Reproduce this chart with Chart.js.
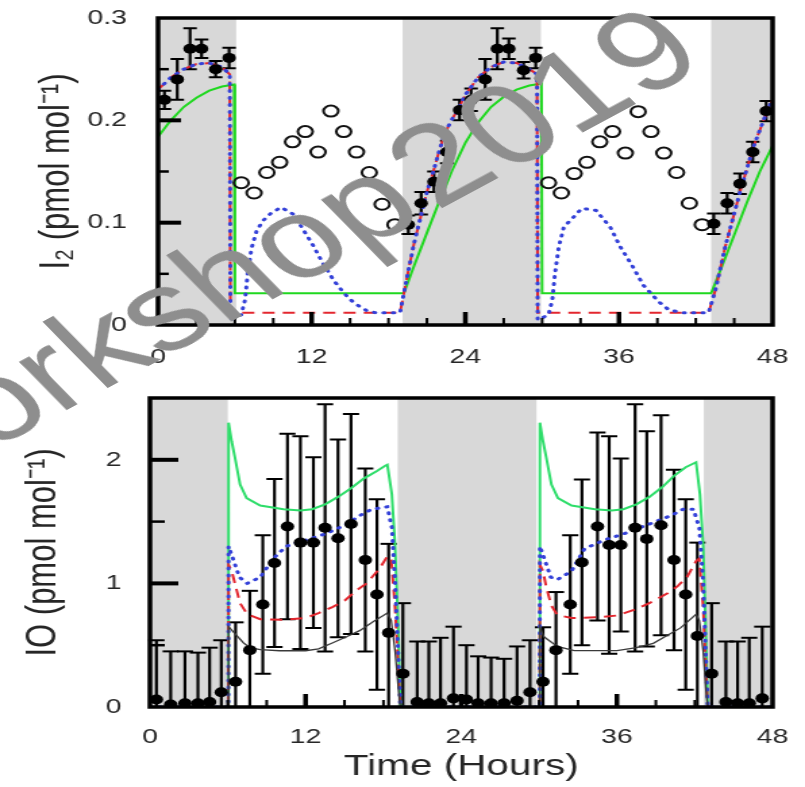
<!DOCTYPE html>
<html>
<head>
<meta charset="utf-8">
<title>I2 and IO diurnal cycle</title>
<script src="https://cdn.jsdelivr.net/npm/chart.js@4.4.1/dist/chart.umd.min.js"></script>
<style>
html, body { margin: 0; padding: 0; background: #fff; overflow: hidden; }
/* the figure is laid out narrow and then widened, like the printed version */
#page { position: absolute; left: 0; top: 0; width: 596px; height: 787px;
        transform-origin: 0 0; transform: scaleX(1.3507); }
#c1 { position: absolute; left: 0; top: 0; }
#c2 { position: absolute; left: 0; top: 380px; }
#mark { position: absolute; left: 194px; top: 257px; white-space: nowrap;
        font: 113px "Liberation Sans", Arial, sans-serif; line-height: 1; color: #8e8e8e;
        word-spacing: -0.22em;
        transform: translate(-50%, -50%) rotate(-36deg); pointer-events: none; }
</style>
</head>
<body>
<div id="page">
  <canvas id="c1" width="596" height="380"></canvas>
  <canvas id="c2" width="596" height="407"></canvas>
  <div id="mark">Workshop 2019</div>
</div>
<script>
// ---- I2 panel ----
// night-time I2 observations (filled) and their error bars
var i2Hours  = [0.5, 1.5, 2.5, 3.4, 4.5, 5.55, 19.55, 20.55, 21.55, 22.55, 23.55, 24.45, 25.55, 26.5, 27.4, 28.55, 29.5, 43.4, 44.45, 45.45, 46.45, 47.5];
var i2Values = [0.22, 0.24, 0.27, 0.27, 0.25, 0.261, 0.098, 0.119, 0.14, 0.169, 0.21, 0.22, 0.24, 0.27, 0.27, 0.249, 0.261, 0.099, 0.119, 0.138, 0.169, 0.209];
var i2Errors = [0.009, 0.02, 0.02, 0.009, 0.008, 0.01, 0.009, 0.011, 0.01, 0.011, 0.01, 0.011, 0.02, 0.02, 0.01, 0.008, 0.01, 0.01, 0.01, 0.01, 0.01, 0.01];

// daytime values (open circles)
var i2DayHours  = [6.5, 7.5, 8.5, 9.5, 10.5, 11.5, 12.5, 13.5, 14.5, 15.5, 16.5, 17.5, 18.5, 30.5, 31.5, 32.5, 33.5, 34.5, 35.5, 36.5, 37.5, 38.5, 39.5, 40.5, 41.5, 42.5];
var i2DayValues = [0.139, 0.129, 0.149, 0.159, 0.179, 0.189, 0.169, 0.209, 0.189, 0.169, 0.149, 0.118, 0.098, 0.139, 0.129, 0.148, 0.159, 0.179, 0.189, 0.168, 0.2085, 0.189, 0.168, 0.149, 0.119, 0.098];

// model runs [hour, I2]
var i2Blue = [[0,0.23],[1,0.242],[2,0.25],[3,0.255],[4,0.256],[5,0.252],[5.6,0.245],[5.65,0.005],[6.5,0.01],[6.8,0.025],[7.0,0.05],[7.3,0.075],[7.7,0.092],[8.2,0.102],[8.8,0.109],[9.6,0.115],[10.6,0.108],[11.5,0.09],[12.1,0.078],[12.8,0.062],[13.7,0.044],[14.2,0.036],[14.9,0.026],[15.5,0.02],[16.3,0.014],[17,0.012],[18.9,0.012],[19.5,0.05],[20,0.08],[20.5,0.105],[21,0.13],[21.5,0.15],[22,0.172],[22.5,0.19],[23,0.202],[23.5,0.212],[24,0.225],[25,0.242],[26,0.252],[27,0.257],[28,0.256],[29,0.25],[29.6,0.245],[29.65,0.005],[30.5,0.01],[30.8,0.025],[31,0.05],[31.3,0.0765],[31.7,0.096],[32.5,0.106],[33.1,0.114],[34.2,0.112],[35.3,0.096],[36.1,0.0765],[37,0.0587],[37.9,0.039],[39.1,0.0228],[39.9,0.0147],[41,0.012],[43.0,0.012],[43.55,0.035],[44.3,0.0765],[45.5,0.132],[46.5,0.174],[47.6,0.21],[48,0.22]];
var i2Red = [[0,0.23],[1,0.242],[2,0.25],[3,0.255],[4,0.256],[5,0.252],[5.6,0.245],[5.65,0.012],[18.9,0.012],[19.5,0.05],[20,0.08],[20.5,0.105],[21,0.13],[21.5,0.15],[22,0.172],[22.5,0.19],[23,0.202],[23.5,0.212],[24,0.225],[25,0.242],[26,0.252],[27,0.257],[28,0.256],[29,0.25],[29.6,0.245],[29.65,0.012],[43.0,0.012],[43.55,0.035],[44.3,0.0765],[45.5,0.132],[46.5,0.174],[47.6,0.21],[48,0.22]];
var i2Green = [[0,0.184],[1,0.2],[2,0.213],[3,0.222],[4,0.229],[5,0.233],[5.95,0.235],[6.0,0.031],[19.2,0.031],[20,0.058],[21,0.09],[22,0.122],[23,0.152],[24,0.178],[25,0.198],[26,0.213],[27,0.223],[28,0.23],[29,0.234],[29.95,0.236],[30.0,0.031],[43.2,0.031],[44,0.056],[45,0.088],[46,0.12],[47,0.15],[48,0.175]];

var i2Nights = [[0, 6.1], [19.1, 29.9], [43.2, 48]];

// ---- IO panel ----
var ioHours  = [0.5, 1.6, 2.7, 3.7, 4.6, 5.5, 6.6, 7.7, 8.7, 9.6, 10.6, 11.6, 12.6, 13.5, 14.5, 15.5, 16.6, 17.5, 18.4, 19.5, 20.6, 21.5, 22.4, 23.4, 24.4, 25.3, 26.3, 27.3, 28.3, 29.3, 30.3, 31.3, 32.4, 33.3, 34.5, 35.4, 36.3, 37.4, 38.3, 39.4, 40.4, 41.3, 42.2, 43.3, 44.4, 45.3, 46.2, 47.2];
var ioValues = [0.06, 0.02, 0.03, 0.03, 0.04, 0.12, 0.205, 0.46, 0.83, 1.165, 1.46, 1.33, 1.33, 1.45, 1.365, 1.48, 1.19, 0.91, 0.6, 0.27, 0.04, 0.03, 0.03, 0.07, 0.06, 0.03, 0.03, 0.03, 0.05, 0.12, 0.205, 0.46, 0.83, 1.17, 1.46, 1.31, 1.31, 1.45, 1.36, 1.47, 1.19, 0.91, 0.575, 0.27, 0.04, 0.03, 0.03, 0.07];
var ioErrors = [0.48, 0.43, 0.42, 0.41, 0.44, 0.42, 0.48, 0.48, 0.56, 0.68, 0.75, 0.86, 0.69, 1.0, 0.8, 0.89, 0.74, 0.77, 0.72, 0.57, 0.49, 0.5, 0.53, 0.58, 0.44, 0.38, 0.37, 0.36, 0.44, 0.42, 0.44, 0.47, 0.56, 0.67, 0.76, 0.88, 0.7, 1.0, 0.87, 0.89, 0.73, 0.77, 0.755, 0.57, 0.49, 0.5, 0.53, 0.58];

var ioGreen = [[0,0],[6.05,0],[6.06,2.3],[6.3,2.15],[6.55,2.02],[6.95,1.8],[7.45,1.69],[8.5,1.63],[10.3,1.6],[11.6,1.59],[12.5,1.6],[13.5,1.64],[14.5,1.7],[15.5,1.77],[16.5,1.85],[17.5,1.91],[18.1,1.95],[18.3,1.96],[18.65,1.72],[18.9,1.3],[19.15,0.6],[19.3,0],[30.05,0],[30.06,2.3],[30.3,2.15],[30.55,2.02],[30.95,1.8],[31.45,1.69],[32.5,1.63],[34.3,1.6],[35.6,1.59],[36.5,1.6],[37.5,1.64],[38.5,1.7],[39.5,1.78],[40.4,1.87],[41.3,1.94],[41.9,1.97],[42.1,1.98],[42.4,1.72],[42.65,1.3],[42.85,0.6],[43.0,0],[48,0]];
var ioBlue = [[0,0],[6.05,0],[6.06,1.3],[6.4,1.2],[6.9,1.05],[7.5,1.0],[8.5,1.05],[9.5,1.2],[10.5,1.3],[12,1.35],[13.5,1.4],[15,1.47],[16.2,1.55],[17.1,1.6],[18.3,1.62],[18.65,1.45],[18.9,1.0],[19.15,0.4],[19.3,0],[30.05,0],[30.06,1.3],[30.4,1.2],[30.9,1.05],[31.4,1.03],[32.5,1.1],[33.5,1.28],[35,1.35],[36.5,1.4],[38.5,1.48],[40.2,1.55],[41.1,1.6],[41.9,1.6],[42.35,1.45],[42.65,1.0],[42.85,0.4],[43.0,0],[48,0]];
var ioRed = [[0,0],[6.05,0],[6.06,1.15],[6.3,1.1],[6.55,1.0],[6.95,0.84],[7.5,0.75],[8.5,0.71],[10.3,0.705],[12,0.72],[13,0.76],[14.1,0.81],[15,0.86],[16,0.95],[16.7,1.0],[17.7,1.12],[18.3,1.22],[18.6,1.2],[18.9,0.8],[19.15,0.3],[19.3,0],[30.05,0],[30.06,1.15],[30.3,1.1],[30.55,0.97],[30.95,0.82],[31.4,0.745],[32.5,0.72],[34.7,0.726],[36,0.74],[37.3,0.785],[38.5,0.84],[39.9,0.92],[40.7,0.98],[41.4,1.05],[42.1,1.18],[42.35,1.2],[42.65,0.8],[42.85,0.3],[43.0,0],[48,0]];
var ioBlack = [[0,0],[6.05,0],[6.06,0.65],[6.5,0.6],[7.2,0.52],[7.7,0.48],[8.5,0.465],[10,0.455],[12,0.455],[13,0.47],[14.1,0.52],[15.2,0.57],[16.2,0.62],[17.2,0.69],[18.3,0.76],[18.6,0.7],[18.9,0.45],[19.15,0.15],[19.3,0],[30.05,0],[30.06,0.65],[30.35,0.57],[31.4,0.49],[32.7,0.456],[36,0.456],[37.5,0.48],[38.8,0.515],[39.9,0.58],[40.9,0.64],[42.1,0.75],[42.35,0.7],[42.65,0.45],[42.85,0.15],[43.0,0],[48,0]];

var ioNights = [[0, 6.0], [19.1, 29.8], [42.7, 48]];

// tick positions drawn inside the frame
var hourMajor = [12, 24, 36];
var hourMinor = [3, 6, 9, 15, 18, 21, 27, 30, 33, 39, 42, 45];
var i2Major = [0.1, 0.2];
var i2Minor = [0.05, 0.15, 0.25];
var ioMajor = [1, 2];
var ioMinor = [0.5, 1.5];

var FONT = '"Liberation Sans", Arial, Helvetica, sans-serif';
var INK = '#262626';

function xy(pairs) {
    return pairs.map(function (p) { return { x: p[0], y: p[1] }; });
}
function zip(xs, ys) {
    return xs.map(function (t, i) { return { x: t, y: ys[i] }; });
}

// night shading, error bars, frame and inward ticks
var panel = {
    id: 'panel',
    beforeDatasetsDraw: function (chart, args, o) {
	var ctx = chart.ctx, a = chart.chartArea, x = chart.scales.x, y = chart.scales.y;
	ctx.save();
	ctx.fillStyle = '#d8d8d8';
	o.nights.forEach(function (n) {
	    var x0 = x.getPixelForValue(n[0]), x1 = x.getPixelForValue(n[1]);
	    ctx.fillRect(x0, a.top, x1 - x0, a.bottom - a.top);
	});
	ctx.strokeStyle = '#000';
	o.hours.forEach(function (t, i) {
	    var px = x.getPixelForValue(t);
	    var v = o.values[i], e = o.errors[i];
	    var hi = y.getPixelForValue(v + e);
	    var lo = y.getPixelForValue(Math.max(0, v - e));
	    ctx.lineWidth = 2.2;
	    ctx.beginPath();
	    ctx.moveTo(px, hi); ctx.lineTo(px, lo);
	    ctx.stroke();
	    ctx.lineWidth = 2;
	    ctx.beginPath();
	    ctx.moveTo(px - o.cap, hi); ctx.lineTo(px + o.cap, hi);
	    if (v - e > 0) { ctx.moveTo(px - o.cap, lo); ctx.lineTo(px + o.cap, lo); }
	    ctx.stroke();
	});
	ctx.restore();
    },
    afterDatasetsDraw: function (chart, args, o) {
	var ctx = chart.ctx, a = chart.chartArea, x = chart.scales.x, y = chart.scales.y;
	ctx.save();
	ctx.strokeStyle = '#000';
	ctx.lineCap = 'butt';
	function xt(list, len, w) {
	    ctx.lineWidth = w;
	    list.forEach(function (t) {
		var px = x.getPixelForValue(t);
		ctx.beginPath(); ctx.moveTo(px, a.bottom); ctx.lineTo(px, a.bottom - len); ctx.stroke();
	    });
	}
	function yt(list, len, w) {
	    ctx.lineWidth = w;
	    list.forEach(function (v) {
		var py = y.getPixelForValue(v);
		ctx.beginPath(); ctx.moveTo(a.left, py); ctx.lineTo(a.left + len, py); ctx.stroke();
	    });
	}
	xt(hourMajor, 13, 3.5);
	xt(hourMinor, 7, 2);
	yt(o.yMajor, o.majorLen, 4);
	yt(o.yMinor, o.minorLen, 2.5);
	ctx.lineWidth = 3.5;
	ctx.strokeRect(a.left, a.top, a.right - a.left, a.bottom - a.top);
	ctx.restore();
    }
};

function lineSet(data, color, width, dash, order) {
    return {
	data: data, borderColor: color, borderWidth: width, borderDash: dash,
	borderCapStyle: dash.length && dash[0] < 2 ? 'round' : 'butt',
	pointRadius: 0, fill: false, tension: 0, order: order
    };
}

function axes(o) {
    return {
	x: {
	    type: 'linear', min: 0, max: 48,
	    grid: { display: false }, border: { display: false },
	    ticks: { stepSize: 12, autoSkip: false, maxRotation: 0, padding: o.xPad,
		     color: INK, font: { family: FONT, size: 21 } },
	    title: o.xTitle,
	    afterFit: function (s) { s.height = o.xHeight; s.paddingLeft = 0; s.paddingRight = 0; }
	},
	y: {
	    type: 'linear', min: 0, max: o.yMax,
	    grid: { display: false }, border: { display: false },
	    ticks: { stepSize: o.yStep, includeBounds: false, padding: o.yPad,
		     color: INK, font: { family: FONT, size: 21 }, callback: o.yFormat },
	    title: { display: true, text: o.yTitle, color: INK,
		     font: { family: FONT, size: 31 }, padding: { top: o.yTitlePad, bottom: 0 } },
	    afterFit: function (s) { s.width = o.yWidth; s.paddingTop = 0; s.paddingBottom = 0; }
	}
    };
}

// upper panel: I2
new Chart(document.getElementById('c1'), {
    type: 'line',
    data: {
	datasets: [
	    { data: zip(i2Hours, i2Values), showLine: false, pointRadius: 5, pointBorderWidth: 0,
	      pointBackgroundColor: '#000', order: 0 },
	    { data: zip(i2DayHours, i2DayValues), showLine: false, pointRadius: 5.5, pointBorderWidth: 2,
	      pointBorderColor: '#111', pointBackgroundColor: 'rgba(0,0,0,0)', order: 1 },
	    lineSet(xy(i2Blue), '#3340d8', 3, [1, 6], 2),
	    lineSet(xy(i2Red), '#e3262e', 2, [9, 6], 3),
	    lineSet(xy(i2Green), '#1fd81f', 2, [], 4)
	]
    },
    options: {
	responsive: false, animation: false,
	layout: { padding: { left: 0, right: 24, top: 18, bottom: 0 } },
	plugins: {
	    legend: { display: false }, tooltip: { enabled: false },
	    panel: { nights: i2Nights, hours: i2Hours, values: i2Values, errors: i2Errors, cap: 5,
		     yMajor: i2Major, yMinor: i2Minor, majorLen: 17, minorLen: 8 }
	},
	scales: axes({
	    xPad: 12, xHeight: 55, xTitle: { display: false },
	    yMax: 0.3, yStep: 0.1, yPad: 15, yWidth: 117, yTitlePad: 24,
	    yTitle: 'I\u2082 (pmol mol\u207B\u00B9)',
	    yFormat: function (v) { return v === 0 ? '0' : v.toFixed(1); }
	})
    },
    plugins: [panel]
});

// lower panel: IO
new Chart(document.getElementById('c2'), {
    type: 'line',
    data: {
	datasets: [
	    { data: zip(ioHours, ioValues), showLine: false, pointRadius: 5, pointBorderWidth: 0,
	      pointBackgroundColor: '#000', order: 0 },
	    lineSet(xy(ioBlack), '#3a3a3a', 1.3, [], 1),
	    lineSet(xy(ioBlue), '#3340d8', 3, [1, 6], 2),
	    lineSet(xy(ioRed), '#e3262e', 2, [9, 6], 3),
	    lineSet(xy(ioGreen), '#2edd6a', 2, [], 4)
	]
    },
    options: {
	responsive: false, animation: false,
	layout: { padding: { left: 0, right: 24, top: 18, bottom: 0 } },
	plugins: {
	    legend: { display: false }, tooltip: { enabled: false },
	    panel: { nights: ioNights, hours: ioHours, values: ioValues, errors: ioErrors, cap: 6,
		     yMajor: ioMajor, yMinor: ioMinor, majorLen: 21, minorLen: 11 }
	},
	scales: axes({
	    xPad: 10, xHeight: 80,
	    xTitle: { display: true, text: 'Time (Hours)', color: INK,
		      font: { family: FONT, size: 30 }, padding: { top: 0, bottom: 2 } },
	    yMax: 2.5, yStep: 1, yPad: 13, yWidth: 111, yTitlePad: 14,
	    yTitle: 'IO (pmol mol\u207B\u00B9)',
	    yFormat: function (v) { return String(v); }
	})
    },
    plugins: [panel]
});
</script>
</body>
</html>
